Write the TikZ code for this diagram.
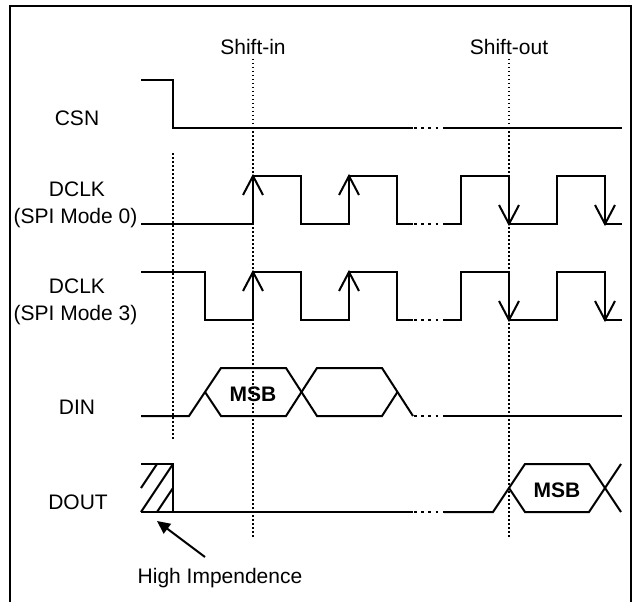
\documentclass[tikz,border=0pt]{standalone}
\usepackage{fontspec}
\setmainfont{Liberation Sans}
\usetikzlibrary{arrows.meta}
\newcommand\clkup[2]{\draw[barb] (#1-10,#2+19) -- (#1,#2) -- (#1+10,#2+19);}
\newcommand\clkdown[2]{\draw[barb] (#1-10,#2-19) -- (#1,#2) -- (#1+10,#2-19);}
\begin{document}
\begin{tikzpicture}[x=1pt,y=-1pt,
  sig/.style={line width=2pt, line join=miter},
  gapdots/.style={line width=2.6pt, dash pattern=on 2.6pt off 4.6pt},
  guide/.style={line width=1.5pt, dash pattern=on 1.5pt off 2.5pt},
  frame/.style={line width=1.3pt},
  barb/.style={line width=2pt, line join=miter},
  lbl/.style={font=\fontsize{21}{25}\selectfont, anchor=base, inner sep=0pt},
  buslbl/.style={font=\fontsize{21}{25}\selectfont\bfseries, anchor=base, inner sep=0pt},
]
\useasboundingbox (0,0) rectangle (638,602);
% frame
\draw[frame] (10,606) -- (10,6) -- (631,6) -- (631,606);

% labels
\node[lbl] (shin)  at (253,55) {Shift-in};
\node[lbl] (shout) at (509,55) {Shift-out};
\node[lbl] (csn)   at (77,125) {CSN};
\node[lbl] (dclka) at (77,196) {DCLK};
\node[lbl] (modea) at (75.5,223) {(SPI Mode 0)};
\node[lbl] (dclkb) at (77,293) {DCLK};
\node[lbl] (modeb) at (75.5,320) {(SPI Mode 3)};
\node[lbl] (din)   at (77,414) {DIN};
\node[lbl] (dout)  at (78,509) {DOUT};
\node[lbl] (hiz)   at (220,583) {High Impendence};
\node[buslbl] (msba) at (253,401) {MSB};
\node[buslbl] (msbb) at (557,497) {MSB};

% guides
\draw[guide] (253,59) -- (253,537);
\draw[guide] (509,59) -- (509,537);
\draw[guide] (173,153) -- (173,440);

% CSN
\draw[sig] (141,80) -- (173,80) -- (173,128) -- (413,128);
\draw[gapdots] (414,128) -- (444,128);
\draw[sig] (444,128) -- (622,128);

% DCLK mode 0
\draw[sig] (141,224) -- (253,224) -- (253,176) -- (301,176) -- (301,224) -- (349,224)
  -- (349,176) -- (397,176) -- (397,224) -- (413,224);
\draw[gapdots] (414,224) -- (444,224);
\draw[sig] (444,224) -- (461,224) -- (461,176) -- (509,176) -- (509,224) -- (557,224)
  -- (557,176) -- (605,176) -- (605,224) -- (622,224);
\clkup{253}{176} \clkup{349}{176}
\clkdown{509}{224} \clkdown{605}{224}

% DCLK mode 3
\draw[sig] (141,272) -- (205,272) -- (205,320) -- (253,320) -- (253,272) -- (301,272)
  -- (301,320) -- (349,320) -- (349,272) -- (397,272) -- (397,320) -- (413,320);
\draw[gapdots] (414,320) -- (444,320);
\draw[sig] (444,320) -- (461,320) -- (461,272) -- (509,272) -- (509,320) -- (557,320)
  -- (557,272) -- (605,272) -- (605,320) -- (622,320);
\clkup{253}{272} \clkup{349}{272}
\clkdown{509}{320} \clkdown{605}{320}

% DIN
\draw[sig] (141,416) -- (189,416) -- (221,368) -- (286,368) -- (317,416) -- (382,416) -- (397.5,392);
\draw[sig] (205,392) -- (221,416) -- (286,416) -- (317,368) -- (382,368) -- (413,416);
\draw[gapdots] (414,416) -- (444,416);
\draw[sig] (444,416) -- (622,416);

% DOUT
\draw[sig] (141,464) -- (173,464) -- (173,512);
\draw[sig] (141,488) -- (157,464);
\draw[sig] (141,512) -- (173,464);
\draw[sig] (157,512) -- (173,488);
\draw[sig] (141,512) -- (413,512);
\draw[gapdots] (414,512) -- (444,512);
\draw[sig] (444,512) -- (493,512) -- (525,464) -- (589,464) -- (621,512);
\draw[sig] (509,488) -- (525,512) -- (589,512) -- (621,464);

% high impedance pointer
\coordinate (hztail) at (205,557);
\coordinate (hztip) at (157,521);
\draw[line width=2pt, -{Triangle[length=13pt,width=12pt]}] (hztail) -- (hztip);
\end{tikzpicture}
\end{document}
